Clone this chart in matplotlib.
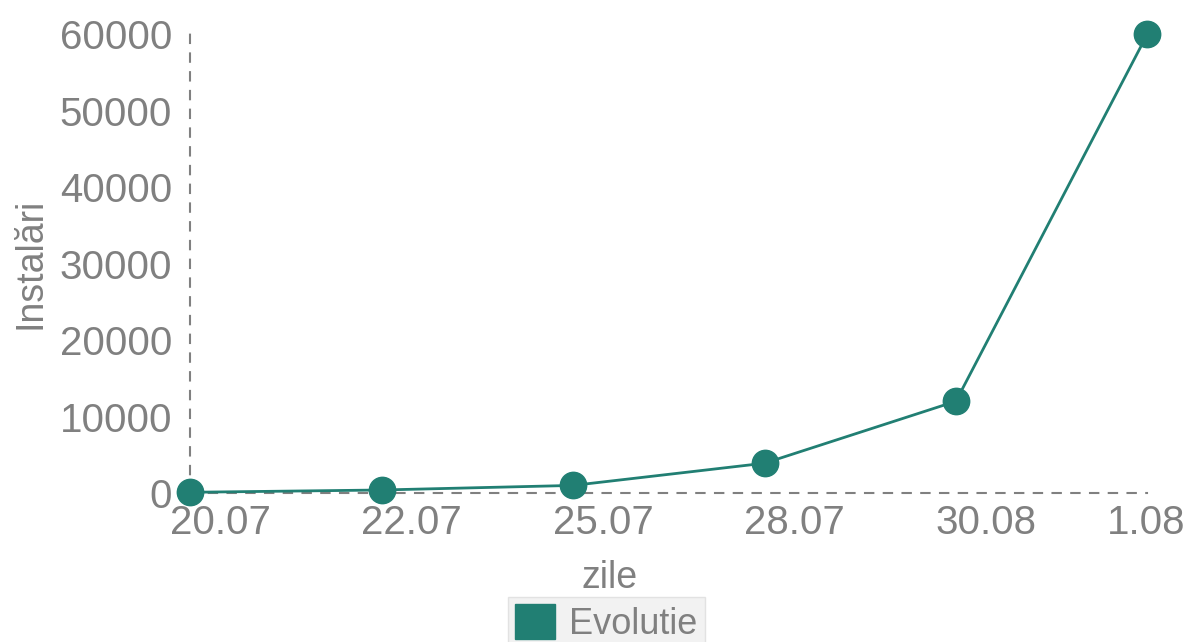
import numpy as np
from matplotlib import pyplot as plt
from matplotlib.patches import Patch
from matplotlib.transforms import ScaledTranslation

plt.rcParams['font.family'] = ['Liberation Sans', 'DejaVu Sans']

zile = ['20.07', '22.07', '25.07', '28.07', '30.08', '1.08']
instalari = [100, 400, 1000, 3900, 12000, 60000]
y_ticks = [0, 10000, 20000, 30000, 40000, 50000, 60000]

teal = '#217f73'
gray = '#808080'

fig = plt.figure(figsize=(11.89, 6.42), dpi=100)
ax = fig.add_axes([0.16, 0.232, 0.805, 0.715])

x = np.arange(len(zile))
ax.plot(x, instalari, color=teal, lw=2, marker='o', ms=19, clip_on=False, zorder=3)

ax.set_xlim(0, len(zile) - 1)
ax.set_ylim(0, 60000)
ax.set_xticks(x)
ax.set_xticklabels(zile)
ax.set_yticks(y_ticks)
ax.set_yticklabels([str(v) for v in y_ticks])
ax.tick_params(length=0, labelsize=29, labelcolor=gray)
ax.tick_params(axis='x', pad=8)
ax.tick_params(axis='y', pad=13)

# etichetele de pe x sunt decalate putin spre dreapta
for i, lbl in enumerate(ax.get_xticklabels()):
    if i == len(zile) - 1:
        lbl.set_horizontalalignment('right')
        lbl.set_transform(lbl.get_transform() + ScaledTranslation(0.38, 0, fig.dpi_scale_trans))
    else:
        lbl.set_transform(lbl.get_transform() + ScaledTranslation(0.30, 0, fig.dpi_scale_trans))

for s in ['top', 'right']:
    ax.spines[s].set_visible(False)
for s in ['left', 'bottom']:
    ax.spines[s].set_linestyle((0, (4, 5)))
    ax.spines[s].set_color(gray)
    ax.spines[s].set_linewidth(1.5)

ax.set_ylabel('Instalări', fontsize=27, color=gray, labelpad=8)
fig.text(0.513, 0.1, 'zile', fontsize=27, color=gray, ha='center', va='center')

leg = fig.legend(handles=[Patch(color=teal)], labels=['Evolutie'],
                 loc='center', bbox_to_anchor=(0.51, 0.03), fontsize=26,
                 frameon=True, fancybox=False, handlelength=1.1, handleheight=1.1,
                 handletextpad=0.4, borderpad=0.2, labelcolor=gray)
leg.get_frame().set_facecolor('#efefef')
leg.get_frame().set_edgecolor('#dddddd')

plt.savefig('out.png', dpi=100)
